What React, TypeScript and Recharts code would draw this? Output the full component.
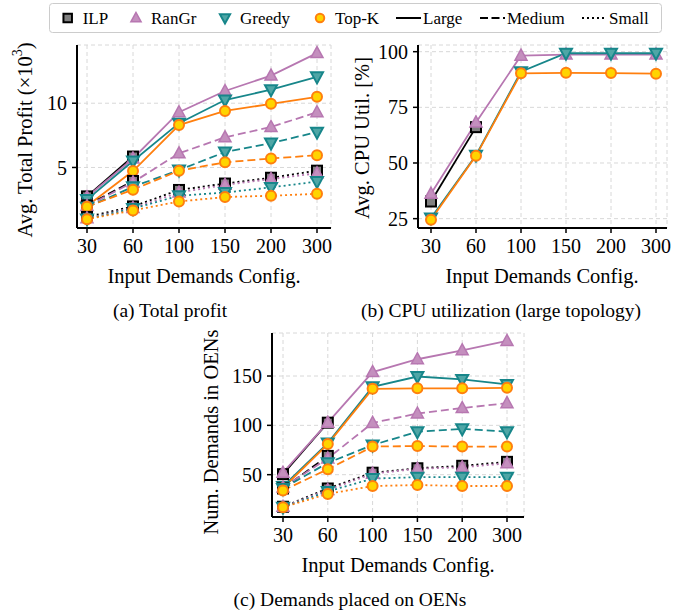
import React from 'react';
import { LineChart, Line, XAxis, YAxis, CartesianGrid } from 'recharts';

const demandConfigs = ['30', '60', '100', '150', '200', '300'];
const algorithms = ['ILP', 'RanGr', 'Greedy', 'Top-K'];
const topologies = ['Large', 'Medium', 'Small'];

// (a) avg total profit (x10^3)
const profitIlpLarge = [2.75, 5.85, null, null, null, null];
const profitRanGrLarge = [2.7, 5.7, 9.3, 10.95, 12.15, 13.9];
const profitGreedyLarge = [2.5, 5.5, 8.45, 10.25, 11.05, 12.05];
const profitTopKLarge = [2.0, 4.72, 8.3, 9.4, 9.95, 10.5];
const profitIlpMedium = [2.05, 3.95, null, null, null, null];
const profitRanGrMedium = [2.0, 3.85, 6.1, 7.35, 8.15, 9.3];
const profitGreedyMedium = [1.9, 3.5, 4.8, 6.2, 6.9, 7.75];
const profitTopKMedium = [1.95, 3.27, 4.75, 5.4, 5.7, 5.95];
const profitIlpSmall = [1.15, 1.97, 3.25, 3.75, 4.2, 4.75];
const profitRanGrSmall = [1.05, 1.85, 3.05, 3.65, 4.1, 4.55];
const profitGreedySmall = [1.0, 1.8, 2.8, 3.05, 3.45, 3.9];
const profitTopKSmall = [0.97, 1.66, 2.35, 2.7, 2.8, 2.95];

// (b) avg CPU utilization, large topology [%]
const cpuIlp = [32.7, 66.1, null, null, null, null];
const cpuRanGr = [36.2, 68.2, 98.2, 98.7, 98.7, 98.7];
const cpuGreedy = [25.3, 53.5, 91, 99.3, 99.3, 99.3];
const cpuTopK = [24.5, 53.2, 90.3, 90.5, 90.4, 90.1];

// (c) number of demands placed on OENs
const oenIlpLarge = [50.5, 102.7, null, null, null, null];
const oenRanGrLarge = [52, 102.7, 154, 167, 176, 185.5];
const oenGreedyLarge = [38, 82, 139, 149.5, 146.5, 141.5];
const oenTopKLarge = [36.5, 81, 137, 137.5, 137.5, 138];
const oenIlpMedium = [36, 69, null, null, null, null];
const oenRanGrMedium = [37, 66.5, 102.5, 112, 117.5, 122.5];
const oenGreedyMedium = [36, 62, 80, 93.5, 96.5, 93.5];
const oenTopKMedium = [34, 55.5, 78.5, 79, 78.5, 78.5];
const oenIlpSmall = [17.5, 36, 52, 56.5, 59, 63];
const oenRanGrSmall = [17.5, 34.5, 51, 56, 57.5, 61.5];
const oenGreedySmall = [17, 33, 46, 47.5, 47.5, 47.5];
const oenTopKSmall = [17, 30.5, 38.5, 39.5, 38.5, 38.5];

const FONT = '"Liberation Serif", "Times New Roman", serif';

const algStyle: Record<string, { stroke: string; fill: string; shape: string }> = {
  ILP: { stroke: '#000000', fill: '#808080', shape: 'square' },
  RanGr: { stroke: '#b777b1', fill: '#c48fbe', shape: 'up' },
  Greedy: { stroke: '#17868a', fill: '#4fa6a6', shape: 'down' },
  'Top-K': { stroke: '#ff7f0e', fill: '#ffd400', shape: 'circle' },
};

const topoDash: Record<string, string | undefined> = {
  Large: undefined,
  Medium: '8 4',
  Small: '2 3',
};

type Series = { key: string; alg: string; topo: string; values: (number | null)[] };

const buildRows = (series: Series[]) =>
  demandConfigs.map((config, i) => {
    const row: Record<string, any> = { config };
    series.forEach(s => { row[s.key] = s.values[i]; });
    return row;
  });

const Marker = ({ shape, cx, cy, stroke, fill, size = 1 }: any) => {
  if (shape === 'square') {
    const h = 5 * size;
    return <rect x={cx - h} y={cy - h} width={2 * h} height={2 * h} fill={fill} stroke={stroke} strokeWidth={2} />;
  }
  if (shape === 'up') {
    const pts = `${cx},${cy - 6.5 * size} ${cx - 6 * size},${cy + 4.5 * size} ${cx + 6 * size},${cy + 4.5 * size}`;
    return <polygon points={pts} fill={fill} stroke={stroke} strokeWidth={1.5} strokeLinejoin="miter" />;
  }
  if (shape === 'down') {
    const pts = `${cx},${cy + 6.5 * size} ${cx - 6 * size},${cy - 4.5 * size} ${cx + 6 * size},${cy - 4.5 * size}`;
    return <polygon points={pts} fill={fill} stroke={stroke} strokeWidth={2} strokeLinejoin="miter" />;
  }
  return <circle cx={cx} cy={cy} r={5 * size} fill={fill} stroke={stroke} strokeWidth={2} />;
};

const makeDot = (alg: string) => (props: any) => {
  const { cx, cy, index } = props;
  if (typeof cx !== 'number' || typeof cy !== 'number' || Number.isNaN(cy)) {
    return <g key={`e-${index}`} />;
  }
  const st = algStyle[alg];
  return (
    <g key={`d-${index}`}>
      <Marker shape={st.shape} cx={cx} cy={cy} stroke={st.stroke} fill={st.fill} />
    </g>
  );
};

const tickStyle = { fontFamily: FONT, fontSize: 20, fill: '#000' };
const axisLine = { stroke: '#000', strokeWidth: 2 };
const tickLine = { stroke: '#000', strokeWidth: 1.5 };

const Panel = ({ left, top, width, height, margin, yWidth, domain, ticks, padding, series }: any) => {
  const rows = buildRows(series);
  return (
    <div style={{ position: 'absolute', left, top }}>
      <LineChart width={width} height={height} data={rows} margin={margin}>
        <CartesianGrid stroke="#d8d8d8" strokeDasharray="4 3" strokeWidth={1} />
        <XAxis dataKey="config" scale="point" padding={padding} interval={0} height={40}
          tick={tickStyle} tickSize={5} tickMargin={6} axisLine={axisLine} tickLine={tickLine} />
        <XAxis xAxisId="top" dataKey="config" orientation="top" scale="point" padding={padding}
          height={0} tick={false} tickLine={false} axisLine={axisLine} />
        <YAxis type="number" domain={domain} ticks={ticks} allowDataOverflow width={yWidth}
          tick={tickStyle} tickSize={5} tickMargin={5} axisLine={axisLine} tickLine={tickLine} />
        <YAxis yAxisId="r" orientation="right" type="number" domain={[0, 1]} width={0}
          tick={false} tickLine={false} axisLine={axisLine} />
        {series.map((s: Series) => (
          <Line key={s.key} dataKey={s.key} stroke={algStyle[s.alg].stroke} strokeWidth={1.8}
            strokeDasharray={topoDash[s.topo]} dot={makeDot(s.alg)} activeDot={false}
            connectNulls={false} isAnimationActive={false} />
        ))}
      </LineChart>
    </div>
  );
};

const profitSeries: Series[] = [
  { key: 'ilpL', alg: 'ILP', topo: 'Large', values: profitIlpLarge },
  { key: 'rgL', alg: 'RanGr', topo: 'Large', values: profitRanGrLarge },
  { key: 'grL', alg: 'Greedy', topo: 'Large', values: profitGreedyLarge },
  { key: 'tkL', alg: 'Top-K', topo: 'Large', values: profitTopKLarge },
  { key: 'ilpM', alg: 'ILP', topo: 'Medium', values: profitIlpMedium },
  { key: 'rgM', alg: 'RanGr', topo: 'Medium', values: profitRanGrMedium },
  { key: 'grM', alg: 'Greedy', topo: 'Medium', values: profitGreedyMedium },
  { key: 'tkM', alg: 'Top-K', topo: 'Medium', values: profitTopKMedium },
  { key: 'ilpS', alg: 'ILP', topo: 'Small', values: profitIlpSmall },
  { key: 'rgS', alg: 'RanGr', topo: 'Small', values: profitRanGrSmall },
  { key: 'grS', alg: 'Greedy', topo: 'Small', values: profitGreedySmall },
  { key: 'tkS', alg: 'Top-K', topo: 'Small', values: profitTopKSmall },
];

const cpuSeries: Series[] = [
  { key: 'ilp', alg: 'ILP', topo: 'Large', values: cpuIlp },
  { key: 'rg', alg: 'RanGr', topo: 'Large', values: cpuRanGr },
  { key: 'gr', alg: 'Greedy', topo: 'Large', values: cpuGreedy },
  { key: 'tk', alg: 'Top-K', topo: 'Large', values: cpuTopK },
];

const oenSeries: Series[] = [
  { key: 'ilpL', alg: 'ILP', topo: 'Large', values: oenIlpLarge },
  { key: 'rgL', alg: 'RanGr', topo: 'Large', values: oenRanGrLarge },
  { key: 'grL', alg: 'Greedy', topo: 'Large', values: oenGreedyLarge },
  { key: 'tkL', alg: 'Top-K', topo: 'Large', values: oenTopKLarge },
  { key: 'ilpM', alg: 'ILP', topo: 'Medium', values: oenIlpMedium },
  { key: 'rgM', alg: 'RanGr', topo: 'Medium', values: oenRanGrMedium },
  { key: 'grM', alg: 'Greedy', topo: 'Medium', values: oenGreedyMedium },
  { key: 'tkM', alg: 'Top-K', topo: 'Medium', values: oenTopKMedium },
  { key: 'ilpS', alg: 'ILP', topo: 'Small', values: oenIlpSmall },
  { key: 'rgS', alg: 'RanGr', topo: 'Small', values: oenRanGrSmall },
  { key: 'grS', alg: 'Greedy', topo: 'Small', values: oenGreedySmall },
  { key: 'tkS', alg: 'Top-K', topo: 'Small', values: oenTopKSmall },
];

// legend layout
const algLegendX = [67.7, 136, 225, 320];
const topoLegendX = [396, 480, 582];
const LEG_Y = 18;

const Overlay = () => (
  <svg width={700} height={614} style={{ position: 'absolute', left: 0, top: 0 }}
    fontFamily={FONT} fill="#000">
    <rect x={49.5} y={3.5} width={612} height={29} rx={3} fill="#fff" stroke="#cccccc" strokeWidth={1} />
    {algorithms.map((a, i) => {
      const st = algStyle[a];
      return (
        <g key={a}>
          <Marker shape={st.shape} cx={algLegendX[i]} cy={LEG_Y} stroke={st.stroke} fill={st.fill} size={0.85} />
          <text x={algLegendX[i] + 15} y={LEG_Y} dominantBaseline="central" fontSize={17}>{a}</text>
        </g>
      );
    })}
    {topologies.map((t, i) => (
      <g key={t}>
        <line x1={topoLegendX[i]} x2={topoLegendX[i] + 25} y1={LEG_Y} y2={LEG_Y} stroke="#000"
          strokeWidth={2} strokeDasharray={t === 'Medium' ? '8 3.5' : t === 'Small' ? '2 3' : undefined} />
        <text x={topoLegendX[i] + 27} y={LEG_Y} dominantBaseline="central" fontSize={17}>{t}</text>
      </g>
    ))}

    <text transform="translate(25,140) rotate(-90)" textAnchor="middle" dominantBaseline="central" fontSize={20.5}>
      Avg. Total Profit (×10<tspan dy={-8} fontSize={14}>3</tspan><tspan dy={8}>)</tspan>
    </text>
    <text transform="translate(362,138) rotate(-90)" textAnchor="middle" dominantBaseline="central" fontSize={20.5}>
      Avg. CPU Util. [%]
    </text>
    <text transform="translate(211,432) rotate(-90)" textAnchor="middle" dominantBaseline="central" fontSize={20.5}>
      Num. Demands in OENs
    </text>

    <text x={204} y={283} textAnchor="middle" fontSize={20.5}>Input Demands Config.</text>
    <text x={542} y={283} textAnchor="middle" fontSize={20.5}>Input Demands Config.</text>
    <text x={398} y={572} textAnchor="middle" fontSize={20.5}>Input Demands Config.</text>

    <text x={170} y={317} textAnchor="middle" fontSize={19.5}>(a) Total profit</text>
    <text x={501} y={317} textAnchor="middle" fontSize={19.5}>(b) CPU utilization (large topology)</text>
    <text x={350} y={606} textAnchor="middle" fontSize={19.5}>(c) Demands placed on OENs</text>
  </svg>
);

export default function App() {
  return (
    <div style={{ position: 'absolute', left: 0, top: 0, width: 700, height: 614, background: '#fff', fontFamily: FONT }}>
      <Overlay />
      <Panel left={0} top={0} width={350} height={300}
        margin={{ top: 45, right: 19, bottom: 32, left: 0 }} yWidth={77}
        domain={[0.29, 14.53]} ticks={[5, 10]} padding={{ left: 10, right: 14 }} series={profitSeries} />
      <Panel left={350} top={0} width={350} height={300}
        margin={{ top: 45, right: 33, bottom: 32, left: 0 }} yWidth={68}
        domain={[20.8, 103]} ticks={[25, 50, 75, 100]} padding={{ left: 13, right: 11 }} series={cpuSeries} />
      <Panel left={200} top={300} width={340} height={280}
        margin={{ top: 33, right: 16, bottom: 23, left: 0 }} yWidth={72}
        domain={[7.1, 193.6]} ticks={[50, 100, 150]} padding={{ left: 11, right: 17 }} series={oenSeries} />
    </div>
  );
}
